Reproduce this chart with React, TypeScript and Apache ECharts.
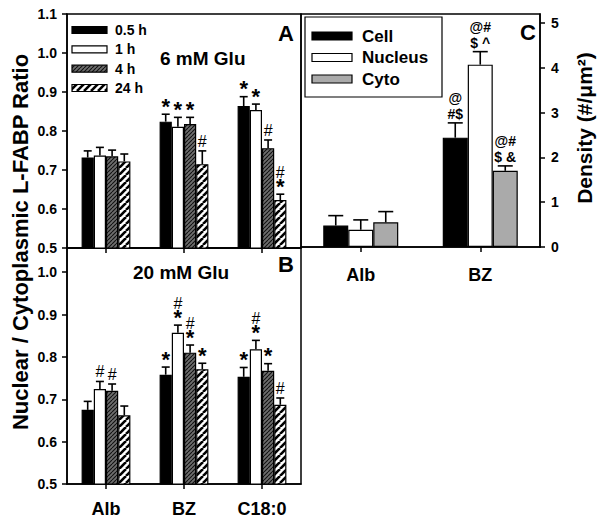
import React, { useEffect, useRef } from 'react';
import * as echarts from 'echarts';

// ---- data ----
const categoriesAB = ['Alb', 'BZ', 'C18:0'];
const timeNames = ['0.5 h', '1 h', '4 h', '24 h'];

// Panel A: 6 mM Glu
const glu6_05h = [0.732, 0.824, 0.864];
const glu6_1h = [0.737, 0.811, 0.854];
const glu6_4h = [0.735, 0.818, 0.756];
const glu6_24h = [0.722, 0.715, 0.623];
const glu6_05hErr = [0.017, 0.019, 0.024];
const glu6_1hErr = [0.021, 0.024, 0.015];
const glu6_4hErr = [0.016, 0.017, 0.021];
const glu6_24hErr = [0.019, 0.034, 0.015];
const glu6_05hNote = ['', '*', '*'];
const glu6_1hNote = ['', '*', '*'];
const glu6_4hNote = ['', '*', '#'];
const glu6_24hNote = ['', '#', '#\n*'];

// Panel B: 20 mM Glu
const glu20_05h = [0.675, 0.758, 0.753];
const glu20_1h = [0.724, 0.857, 0.818];
const glu20_4h = [0.72, 0.81, 0.767];
const glu20_24h = [0.662, 0.771, 0.687];
const glu20_05hErr = [0.02, 0.018, 0.022];
const glu20_1hErr = [0.018, 0.018, 0.021];
const glu20_4hErr = [0.016, 0.018, 0.017];
const glu20_24hErr = [0.022, 0.014, 0.016];
const glu20_05hNote = ['', '*', '*'];
const glu20_1hNote = ['#', '#\n*', '#\n*'];
const glu20_4hNote = ['#', '#\n*', '*'];
const glu20_24hNote = ['', '*', '#'];

// Panel C: density
const categoriesC = ['Alb', 'BZ'];
const densityNames = ['Cell', 'Nucleus', 'Cyto'];
const cellDensity = [0.48, 2.44];
const nucleusDensity = [0.385, 4.07];
const cytoDensity = [0.55, 1.7];
const cellErr = [0.22, 0.33];
const nucleusErr = [0.22, 0.29];
const cytoErr = [0.24, 0.11];
const cellNote = ['', '@\n#$'];
const nucleusNote = ['', '@#\n$ ^'];
const cytoNote = ['', '@#\n$ &'];

const FONT = '"Liberation Sans", Arial, Helvetica, sans-serif';

function makeHatch(size: number, lw: number, bg: string, fg: string) {
  const c = document.createElement('canvas');
  c.width = size;
  c.height = size;
  const ctx = c.getContext('2d')!;
  ctx.fillStyle = bg;
  ctx.fillRect(0, 0, size, size);
  ctx.strokeStyle = fg;
  ctx.lineWidth = lw;
  for (let k = -1; k <= 1; k++) {
    ctx.beginPath();
    ctx.moveTo(k * size, size);
    ctx.lineTo(k * size + size, 0);
    ctx.stroke();
  }
  return { image: c, repeat: 'repeat', imageWidth: size, imageHeight: size } as any;
}

function barSeries(name: string, data: number[], xi: number, yi: number, color: any, barW: number) {
  return {
    type: 'bar',
    name,
    data,
    xAxisIndex: xi,
    yAxisIndex: yi,
    barWidth: barW,
    barGap: '0%',
    itemStyle: { color, borderColor: '#000', borderWidth: 1.2 },
  };
}

// rich-text markup: '*' drawn larger than other marks
function starMarkup(note: string) {
  return note
    .split('\n')
    .map((line) => line.split('').map((ch) => (ch === '*' ? `{s|${ch}}` : ch === ' ' ? `{h| }` : `{h|${ch}}`)).join(''))
    .join('\n');
}

function errSeries(
  vals: number[], errs: number[], notes: string[], idx: number, n: number, barW: number,
  xi: number, yi: number, capHalf: number, gap: number, useRich: boolean
) {
  return {
    type: 'custom',
    xAxisIndex: xi,
    yAxisIndex: yi,
    silent: true,
    clip: false,
    data: vals.map((v, i) => [i, v, errs[i]]),
    encode: { x: 0, y: 1 },
    renderItem: (params: any, api: any) => {
      const cat = api.value(0);
      const v = api.value(1);
      const e = api.value(2);
      const base = api.coord([cat, v]);
      const top = api.coord([cat, v + e]);
      const x = base[0] + (idx - (n - 1) / 2) * barW;
      const children: any[] = [
        { type: 'line', shape: { x1: x, y1: base[1], x2: x, y2: top[1] }, style: { stroke: '#000', lineWidth: 1.6 } },
        { type: 'line', shape: { x1: x - capHalf, y1: top[1], x2: x + capHalf, y2: top[1] }, style: { stroke: '#000', lineWidth: 1.6 } },
      ];
      const note = notes[params.dataIndex];
      if (note) {
        const style: any = useRich
          ? {
              text: starMarkup(note),
              fill: '#000',
              align: 'center',
              verticalAlign: 'bottom',
              rich: {
                s: { fontFamily: FONT, fontWeight: 'bold', fontSize: 22, lineHeight: 12, fill: '#000' },
                h: { fontFamily: FONT, fontWeight: 'normal', fontSize: 16, lineHeight: 15, fill: '#000' },
              },
            }
          : {
              text: note,
              font: `bold 14px ${FONT}`,
              fill: '#000',
              align: 'center',
              verticalAlign: 'bottom',
              lineHeight: 16,
            };
        children.push({ type: 'text', x, y: top[1] - gap, style });
      }
      return { type: 'group', children };
    },
  };
}

export default function App() {
  const ref = useRef<HTMLDivElement>(null);
  useEffect(() => {
    const chart = echarts.init(ref.current!, null, { renderer: 'svg' });
    const hatch4 = makeHatch(4, 1.1, '#6e6e6e', '#111');
    const stripe24 = makeHatch(7, 2.6, '#fff', '#000');
    const abColors = ['#000', '#fff', hatch4, stripe24];
    const cColors = ['#000', '#fff', '#aaaaaa'];

    const aVals = [glu6_05h, glu6_1h, glu6_4h, glu6_24h];
    const aErrs = [glu6_05hErr, glu6_1hErr, glu6_4hErr, glu6_24hErr];
    const aNotes = [glu6_05hNote, glu6_1hNote, glu6_4hNote, glu6_24hNote];
    const bVals = [glu20_05h, glu20_1h, glu20_4h, glu20_24h];
    const bErrs = [glu20_05hErr, glu20_1hErr, glu20_4hErr, glu20_24hErr];
    const bNotes = [glu20_05hNote, glu20_1hNote, glu20_4hNote, glu20_24hNote];
    const cVals = [cellDensity, nucleusDensity, cytoDensity];
    const cErrs = [cellErr, nucleusErr, cytoErr];
    const cNotes = [cellNote, nucleusNote, cytoNote];

    const BW = 12.2;
    const CBW = 25;

    const series: any[] = [];
    timeNames.forEach((nm, i) => series.push(barSeries(nm, aVals[i], 0, 0, abColors[i], BW)));
    timeNames.forEach((nm, i) => series.push(barSeries(nm, bVals[i], 1, 1, abColors[i], BW)));
    densityNames.forEach((nm, i) => series.push(barSeries(nm, cVals[i], 2, 2, cColors[i], CBW)));
    timeNames.forEach((_, i) => series.push(errSeries(aVals[i], aErrs[i], aNotes[i], i, 4, BW, 0, 0, 4, 2, true)));
    timeNames.forEach((_, i) => series.push(errSeries(bVals[i], bErrs[i], bNotes[i], i, 4, BW, 1, 1, 4, 2, true)));
    densityNames.forEach((_, i) => series.push(errSeries(cVals[i], cErrs[i], cNotes[i], i, 3, CBW, 2, 2, 7.5, 1, false)));

    const axisLine = { show: true, lineStyle: { color: '#000', width: 1.5 } };
    const tickLabel = { color: '#000', fontFamily: FONT, fontWeight: 'bold' as const, fontSize: 14 };
    const fmt = (v: number) => v.toFixed(1);
    const tick = { show: true, length: 5, lineStyle: { color: '#000', width: 1.5 } };

    const legendA: any[] = [];
    const rowsA = [30, 49.3, 68.7, 88];
    timeNames.forEach((nm, i) => {
      legendA.push({ type: 'rect', shape: { x: 72, y: rowsA[i] - 3.5, width: 35, height: 7 }, style: { fill: abColors[i], stroke: '#000', lineWidth: 1.2 } });
      legendA.push({ type: 'text', x: 115, y: rowsA[i], style: { text: nm, font: `bold 14px ${FONT}`, fill: '#000', align: 'left', verticalAlign: 'middle' } });
    });
    const legendC: any[] = [
      { type: 'rect', shape: { x: 305, y: 17, width: 137, height: 80 }, style: { fill: '#fff', stroke: '#000', lineWidth: 1.2 } },
    ];
    const rowsC = [36, 57.5, 79];
    densityNames.forEach((nm, i) => {
      legendC.push({ type: 'rect', shape: { x: 312, y: rowsC[i] - 4, width: 40, height: 8 }, style: { fill: cColors[i], stroke: '#000', lineWidth: 1.2 } });
      legendC.push({ type: 'text', x: 362, y: rowsC[i], style: { text: nm, font: `bold 17px ${FONT}`, fill: '#000', align: 'left', verticalAlign: 'middle' } });
    });

    const option: any = {
      animation: false,
      backgroundColor: '#fff',
      grid: [
        { left: 67, top: 14, width: 234, height: 234, show: true, borderColor: '#000', borderWidth: 1.5 },
        { left: 67, top: 248, width: 234, height: 236, show: true, borderColor: '#000', borderWidth: 1.5 },
        { left: 301, top: 14, width: 239, height: 233, show: true, borderColor: '#000', borderWidth: 1.5 },
      ],
      xAxis: [
        { gridIndex: 0, type: 'category', data: categoriesAB, axisLine, axisTick: { ...tick, alignWithLabel: true }, axisLabel: { show: false } },
        { gridIndex: 1, type: 'category', data: categoriesAB, axisLine, axisTick: { ...tick, alignWithLabel: true }, axisLabel: { ...tickLabel, fontSize: 18, margin: 16 } },
        { gridIndex: 2, type: 'category', data: categoriesC, axisLine, axisTick: { ...tick, alignWithLabel: true }, axisLabel: { ...tickLabel, fontSize: 18, margin: 19 } },
      ],
      yAxis: [
        { gridIndex: 0, type: 'value', min: 0.5, max: 1.1, interval: 0.1, axisLine, axisTick: tick, splitLine: { show: false }, axisLabel: { ...tickLabel, margin: 10, formatter: fmt } },
        { gridIndex: 1, type: 'value', min: 0.5, max: 1.057, interval: 0.1, axisLine, axisTick: tick, splitLine: { show: false }, axisLabel: { ...tickLabel, margin: 10, formatter: fmt, showMaxLabel: false } },
        { gridIndex: 2, type: 'value', position: 'right', min: 0, max: 5.2, interval: 1, axisLine, axisTick: tick, splitLine: { show: false }, axisLabel: { ...tickLabel, margin: 11, showMaxLabel: false } },
      ],
      series,
      graphic: [
        { type: 'text', x: 20, y: 242, rotation: Math.PI / 2, style: { text: 'Nuclear / Cytoplasmic L-FABP Ratio', font: `bold 22px ${FONT}`, fill: '#000', align: 'center', verticalAlign: 'middle' } },
        { type: 'text', x: 584, y: 128, rotation: Math.PI / 2, style: { text: 'Density (#/\u03bcm\u00b2)', font: `bold 21px ${FONT}`, fill: '#000', align: 'center', verticalAlign: 'middle' } },
        { type: 'text', x: 160, y: 58, style: { text: '6 mM Glu', font: `bold 19px ${FONT}`, fill: '#000', align: 'left', verticalAlign: 'middle' } },
        { type: 'text', x: 133, y: 272, style: { text: '20 mM Glu', font: `bold 19px ${FONT}`, fill: '#000', align: 'left', verticalAlign: 'middle' } },
        { type: 'text', x: 286, y: 33, style: { text: 'A', font: `bold 22px ${FONT}`, fill: '#000', align: 'center', verticalAlign: 'middle' } },
        { type: 'text', x: 286, y: 264, style: { text: 'B', font: `bold 22px ${FONT}`, fill: '#000', align: 'center', verticalAlign: 'middle' } },
        { type: 'text', x: 528, y: 32, style: { text: 'C', font: `bold 22px ${FONT}`, fill: '#000', align: 'center', verticalAlign: 'middle' } },
        ...legendA,
        ...legendC,
      ],
    };
    chart.setOption(option);
    return () => chart.dispose();
  }, []);
  return <div ref={ref} style={{ position: 'fixed', left: 0, top: 0, width: 602, height: 523, background: '#fff' }} />;
}
